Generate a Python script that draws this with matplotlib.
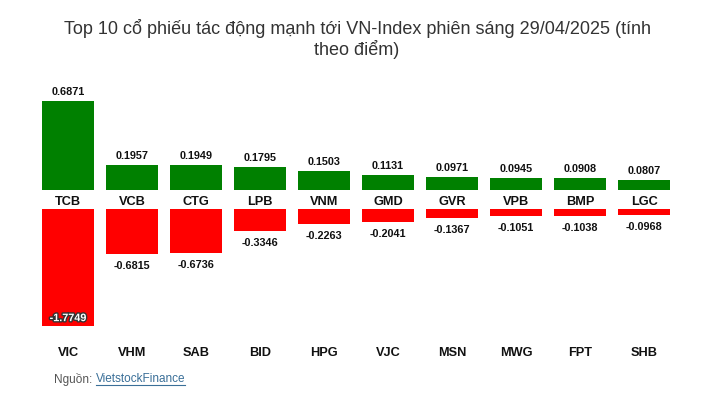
import matplotlib
matplotlib.use("Agg")
import matplotlib.pyplot as plt
import matplotlib.patheffects as pe
from matplotlib.transforms import offset_copy

plt.rcParams['font.family'] = ['Liberation Sans', 'DejaVu Sans']

title = "Top 10 cổ phiếu tác động mạnh tới VN-Index phiên sáng 29/04/2025 (tính\ntheo điểm)"
pos_names = ["TCB", "VCB", "CTG", "LPB", "VNM", "GMD", "GVR", "VPB", "BMP", "LGC"]
pos_values = [0.6871, 0.1957, 0.1949, 0.1795, 0.1503, 0.1131, 0.0971, 0.0945, 0.0908, 0.0807]
neg_names = ["VIC", "VHM", "SAB", "BID", "HPG", "VJC", "MSN", "MWG", "FPT", "SHB"]
neg_values = [-1.7749, -0.6815, -0.6736, -0.3346, -0.2263, -0.2041, -0.1367, -0.1051, -0.1038, -0.0968]

W, H = 715, 404
fig = plt.figure(figsize=(W / 100, H / 100), dpi=100)
fig.patch.set_facecolor("white")

def px_axes(x0, y_top, x1, y_bot):
    return fig.add_axes([x0 / W, 1 - y_bot / H, (x1 - x0) / W, (y_bot - y_top) / H])

x = list(range(len(pos_names)))
bw = 0.81

# top (positive) axes: zero at y=190, 129.5 px per unit
ax1 = px_axes(36, 80, 676, 190)
ax1.set_xlim(-0.5, 9.5)
ax1.set_ylim(0, 110 / 129.5)
ax1.bar(x, pos_values, width=bw, color="#008000")
for xi, v in zip(x, pos_values):
    ax1.text(xi, v, f"{v:.4f}", ha="center", va="bottom", fontsize=7.8,
             fontweight="bold", color="#111111",
             transform=offset_copy(ax1.transData, fig=fig, x=0, y=4, units="dots"))
ax1.set_xticks(x)
ax1.set_xticklabels(pos_names, fontsize=9.2, fontweight="bold", color="#111111")
ax1.tick_params(axis="x", length=0, pad=4)
ax1.set_yticks([])
for s in ax1.spines.values():
    s.set_visible(False)

# bottom (negative) axes: zero at y=209, 66 px per unit
ax2 = px_axes(36, 209, 676, 340)
ax2.set_xlim(-0.5, 9.5)
ax2.set_ylim(-131 / 66, 0)
ax2.bar(x, neg_values, width=bw, color="#ff0000")
for i, (xi, v) in enumerate(zip(x, neg_values)):
    if i == 0:
        ax2.text(xi, v, f"{v:.4f}", ha="center", va="bottom", fontsize=7.8,
                 fontweight="bold", color="white",
                 path_effects=[pe.withStroke(linewidth=2, foreground="#333333")],
                 transform=offset_copy(ax2.transData, fig=fig, x=0, y=3, units="dots"))
    else:
        ax2.text(xi, v, f"{v:.4f}", ha="center", va="top", fontsize=7.8,
                 fontweight="bold", color="#111111",
                 transform=offset_copy(ax2.transData, fig=fig, x=0, y=-7, units="dots"))
ax2.set_xticks(x)
ax2.set_xticklabels(neg_names, fontsize=9.2, fontweight="bold", color="#111111")
ax2.tick_params(axis="x", length=0, pad=5)
ax2.set_yticks([])
for s in ax2.spines.values():
    s.set_visible(False)

fig.text(357 / W, 1 - 19 / H, title, ha="center", va="top", fontsize=13,
         color="#333333", linespacing=1.12)

t1 = fig.text(54 / W, 1 - 379 / H, "Nguồn: ", ha="left", va="center",
              fontsize=8.5, color="#555555")
fig.canvas.draw()
bb = t1.get_window_extent()
t2 = fig.text(bb.x1 / W, 1 - 379 / H, "VietstockFinance", ha="left", va="center",
              fontsize=8.5, color="#3a6f98")
fig.canvas.draw()
bb2 = t2.get_window_extent()
fig.add_artist(plt.Line2D([bb2.x0 / W, bb2.x1 / W], [(bb2.y0 + 0.5) / H] * 2,
                          color="#3a6f98", linewidth=0.8))

fig.savefig("out.png", dpi=100, facecolor="white")
